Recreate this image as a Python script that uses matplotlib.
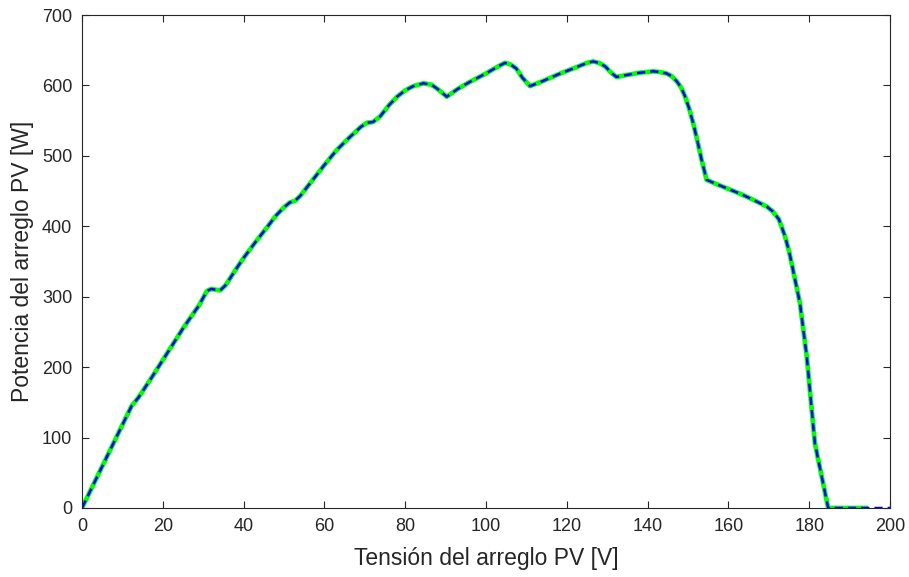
#!/usr/bin/env python3
"""P-V curve of a PV array under partial shading (measured vs model)."""
import matplotlib

matplotlib.use("Agg")
import matplotlib.pyplot as plt  # noqa: E402

# model curve (blue dashed)
v_model = [0, 10, 12.3, 14, 17, 20, 25, 29, 30.9, 32, 33, 34.2, 35.5, 38, 40,
           43, 46, 48, 50, 51.5, 52.7, 54, 57, 60, 63, 66, 69, 70.5, 72, 73.8,
           76, 78, 80, 82, 84.5, 86.5, 88, 90.3, 93, 96, 100, 103, 104.7, 106,
           107.5, 109, 110.9, 114, 118, 122, 125, 126.5, 128, 129.5, 131,
           132.3, 135, 138, 141.4, 143, 144.7, 146, 147.2, 148.3, 149.3,
           150.3, 151.3, 152.3, 153.3, 154.6, 157, 160, 163, 166, 169.5, 171,
           172.5, 174, 175, 176, 177.7, 179.4, 181.4, 184.7, 190, 195, 200]
p_model = [0, 118, 145, 157, 183, 210, 255, 288, 308, 311, 310, 309, 316, 338,
           355, 378, 400, 415, 427, 434, 436, 443, 465, 487, 508, 525, 541,
           547, 548, 556, 572, 584, 593, 599, 603, 601, 595, 584, 595, 605,
           617, 627, 632, 630, 624, 611, 599, 606, 616, 625, 632, 634, 632,
           627, 618, 612, 615, 618, 620, 619, 617, 613, 606, 597, 584,
           567, 546, 522, 496, 466, 460, 453, 446, 438, 428, 421,
           410, 386, 365, 338, 291, 215, 92, 0, 0, 0, 0]

# measured curve (green), same shape but stops at about 194 V
v_meas = v_model[:-2] + [194]
p_meas = p_model[:-2] + [0]

xticks = [0, 20, 40, 60, 80, 100, 120, 140, 160, 180, 200]
yticks = [0, 100, 200, 300, 400, 500, 600, 700]

txt = "#262626"
plt.rcParams["font.family"] = ["Liberation Sans", "DejaVu Sans"]

fig = plt.figure(figsize=(9.09, 5.77), dpi=100)
ax = fig.add_axes([0.0902, 0.1196, 0.8889, 0.8544])

ax.plot(v_meas, p_meas, color="#00ff00", lw=3.4, solid_joinstyle="round")
ax.plot(v_model, p_model, color="#0000ff", lw=1.8, ls=(0, (3.3, 2.0)))

ax.set_xlim(0, 200)
ax.set_ylim(0, 700)
ax.set_xticks(xticks)
ax.set_yticks(yticks)
ax.tick_params(direction="in", top=True, right=True, length=5, width=0.8,
               colors=txt, labelsize=13, pad=7)
for s in ax.spines.values():
    s.set_color("#262626")
    s.set_linewidth(0.8)

ax.set_xlabel("Tensión del arreglo PV [V]", fontsize=16.5, color=txt,
              labelpad=9)
ax.set_ylabel("Potencia del arreglo PV [W]", fontsize=16.5, color=txt,
              labelpad=6)

fig.savefig("out.png", dpi=100)
